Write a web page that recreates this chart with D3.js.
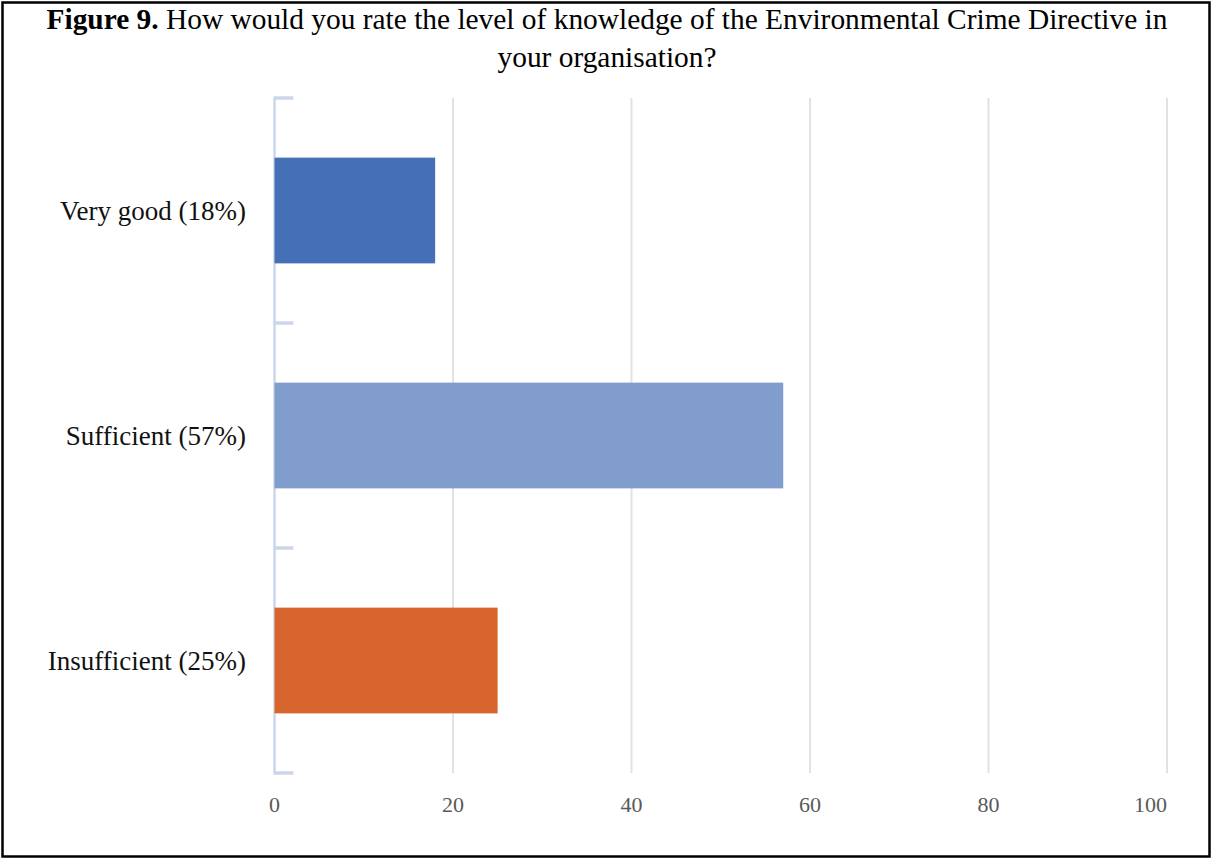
<!DOCTYPE html>
<html>
<head>
<meta charset="utf-8">
<script src="https://cdn.jsdelivr.net/npm/d3@7"></script>
<style>
  html, body { margin: 0; padding: 0; background: #fff; }
  svg { display: block; }
  text { font-family: "Liberation Serif", "Times New Roman", serif; }
</style>
</head>
<body>
<svg id="chart" width="1212" height="859"></svg>
<script>
// Survey responses: knowledge of the Environmental Crime Directive
const categories = ["Very good (18%)", "Sufficient (57%)", "Insufficient (25%)"];
const values = [18, 57, 25];
const barColors = ["#4570b5", "#809dcd", "#d9652e"];
const xTicks = [0, 20, 40, 60, 80, 100];

const svg = d3.select("#chart");
const W = 1212, H = 859;

// frame
svg.append("rect")
  .attr("x", 2.5).attr("y", 2.5)
  .attr("width", W - 5).attr("height", H - 5)
  .attr("fill", "#fff").attr("stroke", "#000").attr("stroke-width", 2.5);

// title
const title = svg.append("text")
  .attr("text-anchor", "middle")
  .attr("font-size", 29.4)
  .attr("fill", "#000");
const l1 = title.append("tspan").attr("x", 607).attr("y", 29);
l1.append("tspan").attr("font-weight", "bold").text("Figure 9.");
l1.append("tspan").text(" How would you rate the level of knowledge of the Environmental Crime Directive in");
title.append("tspan").attr("x", 607).attr("y", 67).text("your organisation?");

// scales
const x = d3.scaleLinear().domain([0, 100]).range([274.5, 1167]);
const y = d3.scaleBand().domain(categories).range([98, 773])
  .paddingInner(0.53).paddingOuter(0.265);

// vertical gridlines
svg.append("g").selectAll("line")
  .data(xTicks.filter(d => d > 0))
  .join("line")
  .attr("x1", d => x(d)).attr("x2", d => x(d))
  .attr("y1", 98).attr("y2", 773)
  .attr("stroke", "#e2e2e2").attr("stroke-width", 2);

// category axis line with boundary ticks
const axisCol = "#ccd6eb";
svg.append("line")
  .attr("x1", x(0)).attr("x2", x(0))
  .attr("y1", 98).attr("y2", 773)
  .attr("stroke", axisCol).attr("stroke-width", 2.5);
const step = y.step();
const boundaries = d3.range(categories.length + 1).map(i => y.range()[0] + i * step);
svg.append("g").selectAll("line")
  .data(boundaries)
  .join("line")
  .attr("x1", x(0) - 1).attr("x2", x(0) + 19)
  .attr("y1", d => d).attr("y2", d => d)
  .attr("stroke", axisCol).attr("stroke-width", 3.5);

// bars
svg.append("g").selectAll("rect")
  .data(categories)
  .join("rect")
  .attr("x", x(0))
  .attr("y", d => y(d))
  .attr("width", (d, i) => x(values[i]) - x(0))
  .attr("height", y.bandwidth())
  .attr("fill", (d, i) => barColors[i]);

// category labels
svg.append("g").selectAll("text")
  .data(categories)
  .join("text")
  .attr("x", 246)
  .attr("y", d => y(d) + y.bandwidth() / 2)
  .attr("dy", "0.35em")
  .attr("text-anchor", "end")
  .attr("font-size", 27)
  .attr("fill", "#111")
  .text(d => d);

// value axis labels (last one kept inside the plot edge)
const last = xTicks[xTicks.length - 1];
svg.append("g").selectAll("text")
  .data(xTicks)
  .join("text")
  .attr("x", d => x(d))
  .attr("y", 812)
  .attr("text-anchor", d => d === last ? "end" : "middle")
  .attr("font-size", 22)
  .attr("fill", "#595959")
  .text(d => d);
</script>
</body>
</html>
